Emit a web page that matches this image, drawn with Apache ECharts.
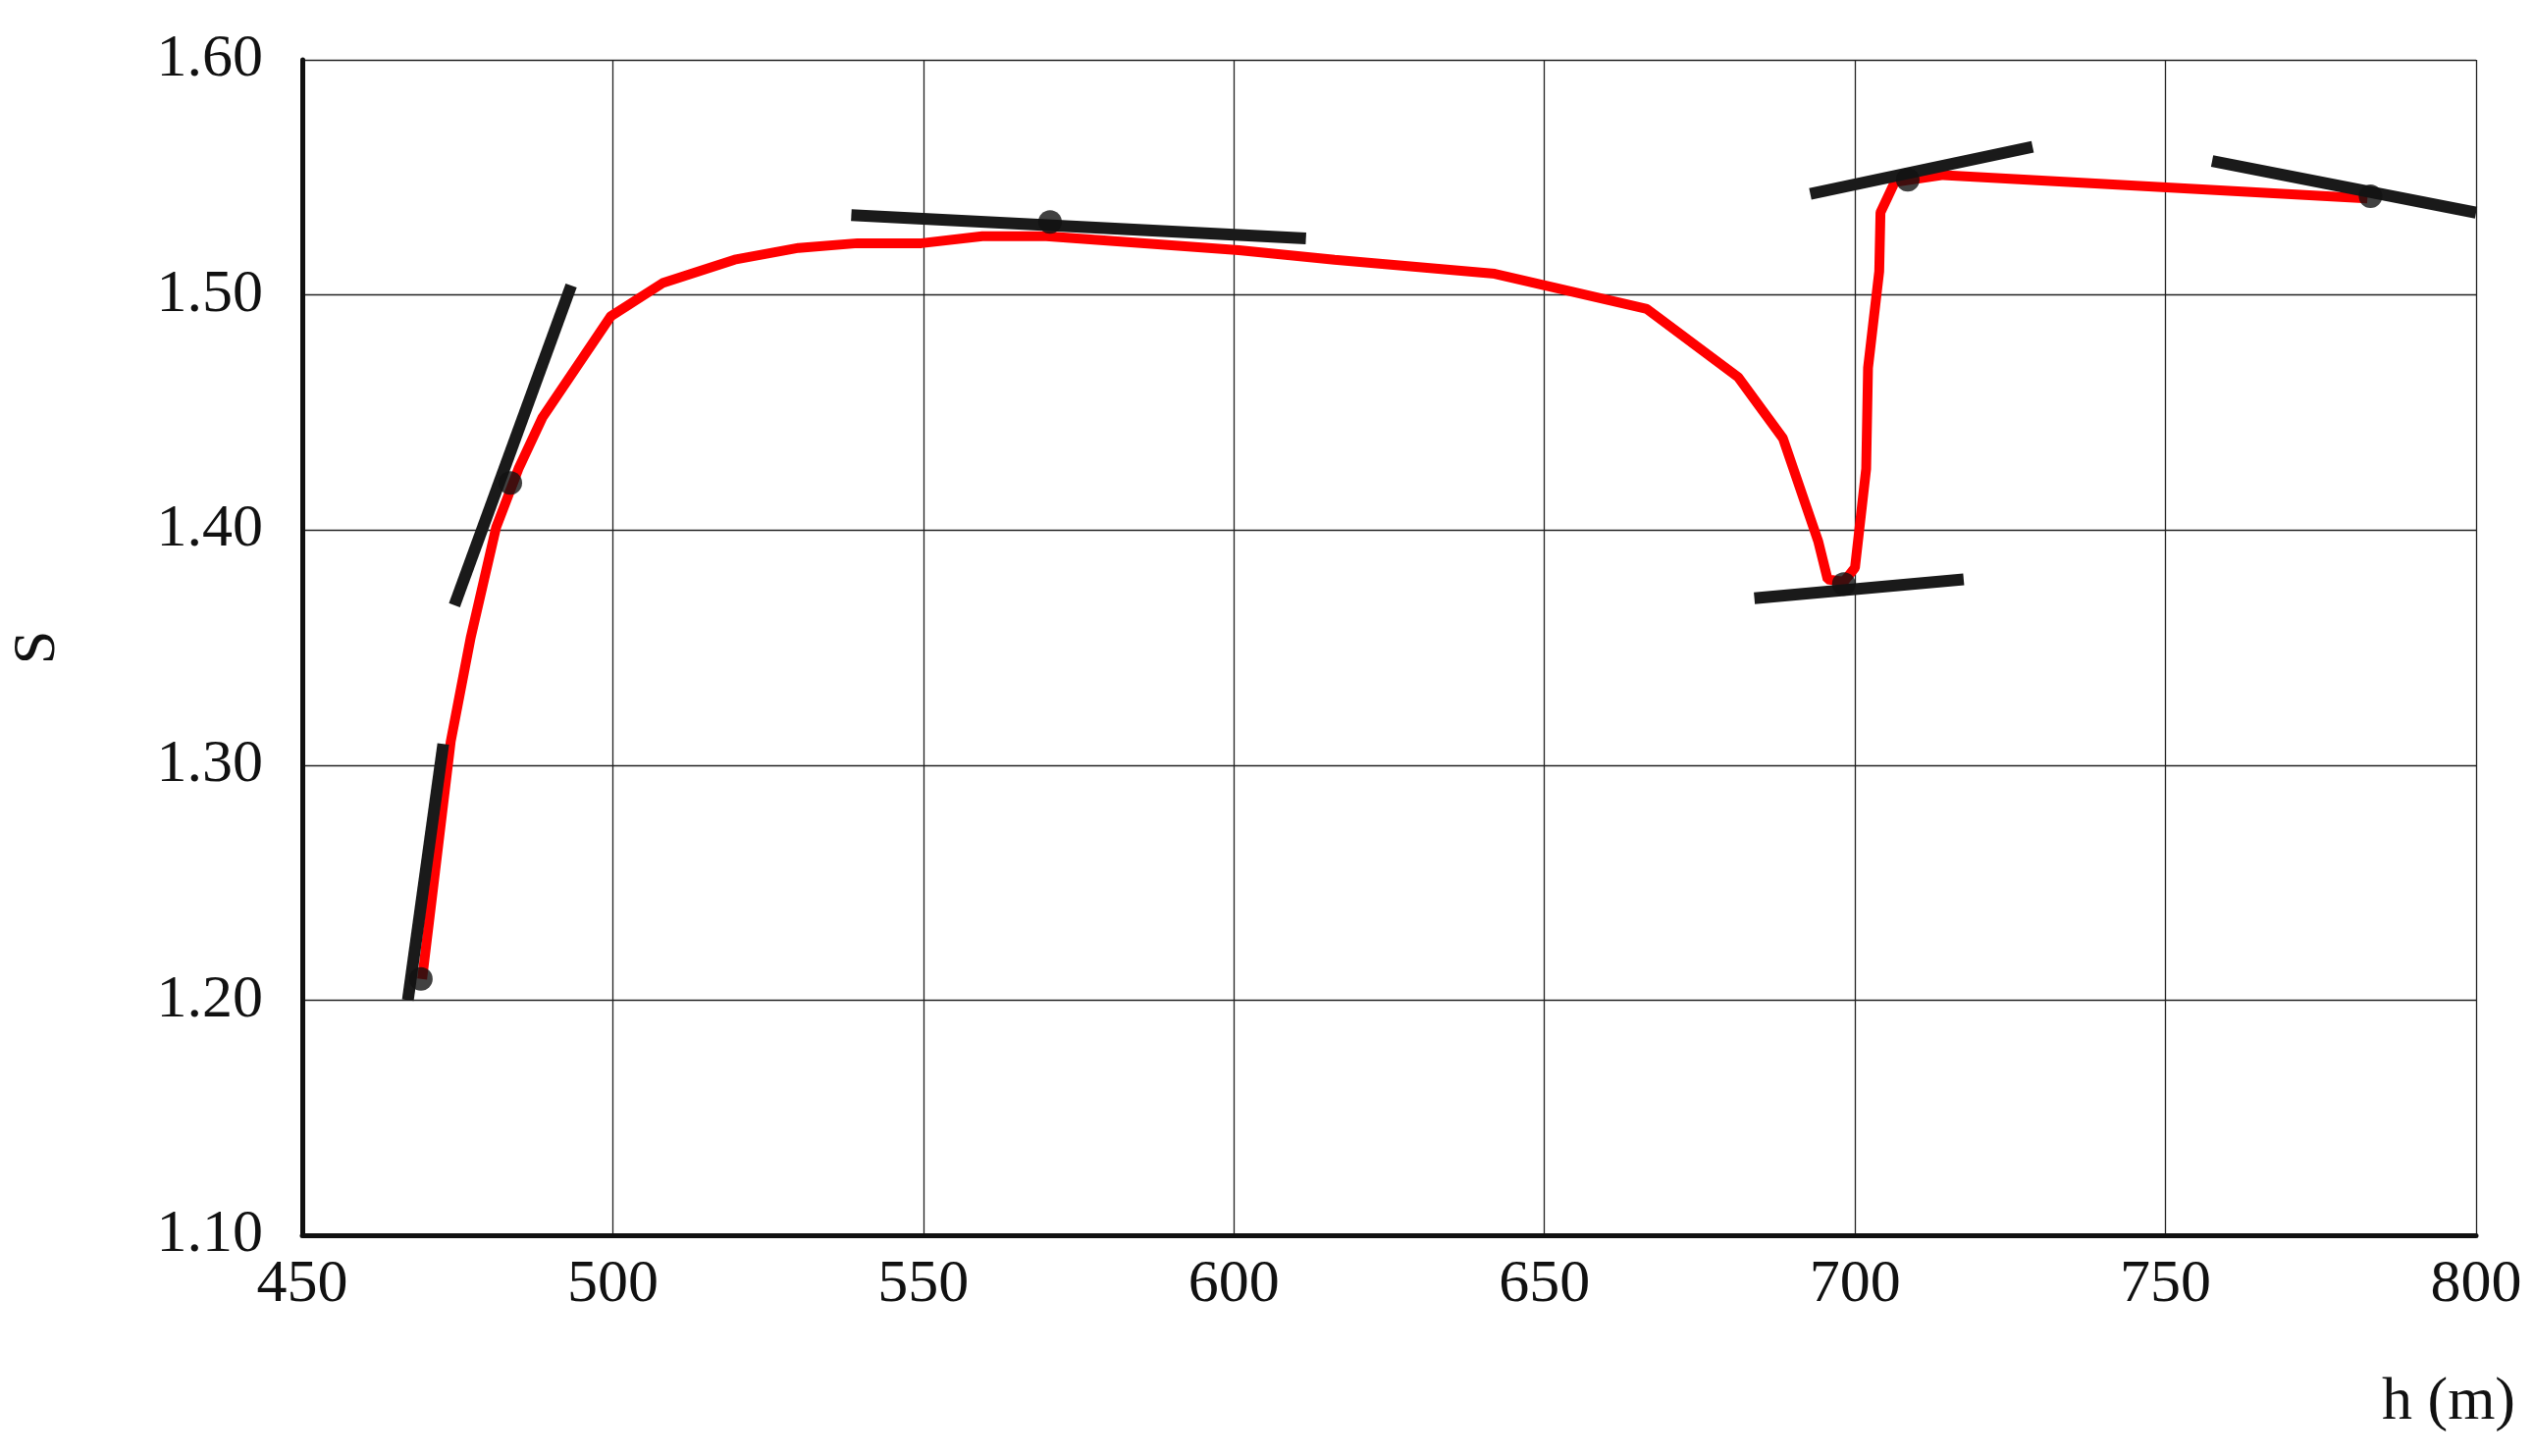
<!DOCTYPE html>
<html><head><meta charset="utf-8">
<script src="https://cdn.jsdelivr.net/npm/echarts@6/dist/echarts.min.js"></script>
<style>html,body{margin:0;background:#fff}#c{width:2581px;height:1484px}</style>
</head><body><div id="c"></div>
<script>
const curveH = [469.3,471.4,473.9,477.1,481.2,484.8,488.7,495.1,499.7,508,519.6,529.9,539.4,549.7,559.5,569.8,600.8,616.2,642,666.5,681.2,688.4,694.1,695.6,698.2,700,701.8,702.1,703.9,704.1,706.4,714.2,782.5];
const curveS = [1.209,1.255,1.31,1.354,1.401,1.426,1.448,1.473,1.491,1.505,1.515,1.520,1.522,1.522,1.525,1.525,1.519,1.515,1.509,1.494,1.465,1.439,1.395,1.379,1.378,1.384,1.426,1.469,1.51,1.535,1.548,1.551,1.541];
const tangentStartH = [467.0,474.5,538.4,683.8,692.8,757.5];
const tangentStartS = [1.200,1.368,1.534,1.371,1.543,1.557];
const tangentEndH = [472.7,493.3,611.6,717.5,728.6,800.0];
const tangentEndS = [1.309,1.504,1.524,1.379,1.563,1.535];
const pointH = [469.1,483.5,570.4,698.2,708.5,783.0];
const pointS = [1.209,1.420,1.531,1.377,1.549,1.542];

const font = 'Liberation Serif';
const series = [{
  type:'line', data: curveH.map((h,i)=>[h,curveS[i]]), symbol:'none',
  lineStyle:{color:'#ff0000', width:10}, z:3
}];
tangentStartH.forEach((h,i)=>{
  series.push({type:'line', data:[[h,tangentStartS[i]],[tangentEndH[i],tangentEndS[i]]], symbol:'none',
    lineStyle:{color:'#1a1a1a', width:12}, z:4});
});
series.push({type:'scatter', data: pointH.map((h,i)=>[h,pointS[i]]), symbolSize:24,
  itemStyle:{color:'#111'}, z:5});

const chart = echarts.init(document.getElementById('c'));
chart.setOption({
  backgroundColor:'#fff', animation:false,
  grid:{left:288, right:58, top:61, bottom:225},
  xAxis:{type:'value', min:450, max:800, interval:50, name:'h (m)', nameLocation:'end',
    nameGap:0, nameTextStyle:{fontFamily:font, fontSize:62, color:'#111', align:'right', verticalAlign:'top', padding:[140,-40,0,0]},
    axisLine:{lineStyle:{color:'#111', width:5}}, axisTick:{show:false},
    axisLabel:{fontFamily:font, fontSize:62, color:'#111', margin:20},
    splitLine:{show:true, lineStyle:{color:'#222', width:1.3}}},
  yAxis:{type:'value', min:1.1, max:1.6, interval:0.1, name:'S', nameLocation:'middle', nameGap:238,
    nameTextStyle:{fontFamily:font, fontSize:62, color:'#111'},
    axisLine:{show:true, lineStyle:{color:'#111', width:5}}, axisTick:{show:false},
    axisLabel:{fontFamily:font, fontSize:62, color:'#111', margin:40, formatter:v=>v.toFixed(2)},
    splitLine:{show:true, lineStyle:{color:'#222', width:1.3}}},
  series
});
</script></body></html>
